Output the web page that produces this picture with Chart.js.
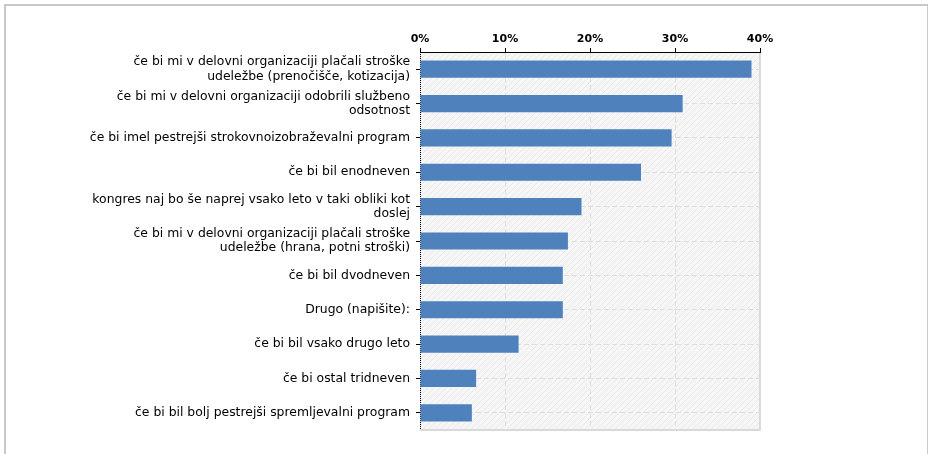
<!DOCTYPE html>
<html>
<head>
<meta charset="utf-8">
<script src="https://cdn.jsdelivr.net/npm/chart.js@4"></script>
<style>
  html, body { margin: 0; padding: 0; background: #fff; }
  #frame {
    position: absolute; left: 4px; top: 4px; width: 921px; height: 460px;
    border-left: 2px solid #c8c8c8; border-top: 2px solid #c8c8c8; border-right: 2px solid #c8c8c8;
  }
  #chart { position: absolute; left: 0; top: 0; }
</style>
</head>
<body>
<div id="frame"></div>
<canvas id="chart" width="928" height="454"></canvas>
<script>
// ===============================
// Podatki
// ===============================
const categories = [
  ["če bi mi v delovni organizaciji plačali stroške", "udeležbe (prenočišče, kotizacija)"],
  ["če bi mi v delovni organizaciji odobrili službeno", "odsotnost"],
  "če bi imel pestrejši strokovnoizobraževalni program",
  "če bi bil enodneven",
  ["kongres naj bo še naprej vsako leto v taki obliki kot", "doslej"],
  ["če bi mi v delovni organizaciji plačali stroške", "udeležbe (hrana, potni stroški)"],
  "če bi bil dvodneven",
  "Drugo (napišite):",
  "če bi bil vsako drugo leto",
  "če bi ostal tridneven",
  "če bi bil bolj pestrejši spremljevalni program"
];
const percents = [39.0, 30.9, 29.6, 26.0, 19.0, 17.4, 16.8, 16.8, 11.6, 6.6, 6.1];
const xTicks = [0, 10, 20, 30, 40];

// ===============================
// Ozadje (šrafura) in okvir
// ===============================
const makeHatch = (ctx) => {
  const c = document.createElement("canvas");
  c.width = 6; c.height = 6;
  const p = c.getContext("2d");
  p.fillStyle = "#f6f6f6";
  p.fillRect(0, 0, 6, 6);
  p.strokeStyle = "#e9e9e9";
  p.lineWidth = 1;
  p.beginPath();
  p.moveTo(0, 6); p.lineTo(6, 0);
  p.moveTo(-1, 1); p.lineTo(1, -1);
  p.moveTo(5, 7); p.lineTo(7, 5);
  p.stroke();
  return ctx.createPattern(c, "repeat");
};

const plotBg = {
  id: "plotBg",
  beforeDraw(chart) {
    const { ctx, chartArea: a } = chart;
    ctx.save();
    ctx.fillStyle = makeHatch(ctx);
    ctx.fillRect(a.left, a.top, a.right - a.left, a.bottom - a.top);
    ctx.strokeStyle = "#d9d9d9";
    ctx.lineWidth = 2;
    ctx.beginPath();
    ctx.moveTo(a.right, a.top);
    ctx.lineTo(a.right, a.bottom);
    ctx.lineTo(a.left, a.bottom);
    ctx.stroke();
    ctx.restore();
  },
  beforeDatasetsDraw(chart) {
    // pikčasta leva os
    const { ctx, chartArea: a } = chart;
    ctx.save();
    ctx.strokeStyle = "#000";
    ctx.lineWidth = 1;
    ctx.setLineDash([1, 1]);
    ctx.beginPath();
    ctx.moveTo(a.left + 0.5, a.top);
    ctx.lineTo(a.left + 0.5, a.bottom);
    ctx.stroke();
    ctx.restore();
  }
};

new Chart(document.getElementById("chart").getContext("2d"), {
  type: "bar",
  data: {
    labels: categories,
    datasets: [{
      data: percents,
      backgroundColor: "#4f81bd",
      barPercentage: 0.5,
      categoryPercentage: 1.0
    }]
  },
  options: {
    indexAxis: "y",
    responsive: false,
    animation: false,
    layout: { padding: { top: 0, right: 168, bottom: 24, left: 0 } },
    plugins: { legend: { display: false }, tooltip: { enabled: false } },
    scales: {
      x: {
        position: "top",
        min: 0,
        max: 40,
        afterBuildTicks: (s) => { s.ticks = xTicks.map(v => ({ value: v })); },
        afterFit: (s) => { s.height = 52; },
        ticks: {
          padding: 2,
          color: "#000",
          font: { family: "DejaVu Sans", size: 11, weight: "bold" },
          callback: (v) => v + "%"
        },
        grid: { color: "#dedede", tickColor: "#000", tickLength: 4, lineWidth: 1 },
        border: { display: true, color: "#000", width: 1, dash: [5, 3] }
      },
      y: {
        afterFit: (s) => { s.width = 420; },
        ticks: {
          padding: 6,
          color: "#000",
          font: { family: "DejaVu Sans", size: 12.4, lineHeight: 1.15 },
          crossAlign: "near"
        },
        grid: { offset: false, color: "#dedede", tickColor: "#000", tickLength: 4, lineWidth: 1 },
        border: { display: false, dash: [5, 3] }
      }
    }
  },
  plugins: [plotBg]
});
</script>
</body>
</html>
